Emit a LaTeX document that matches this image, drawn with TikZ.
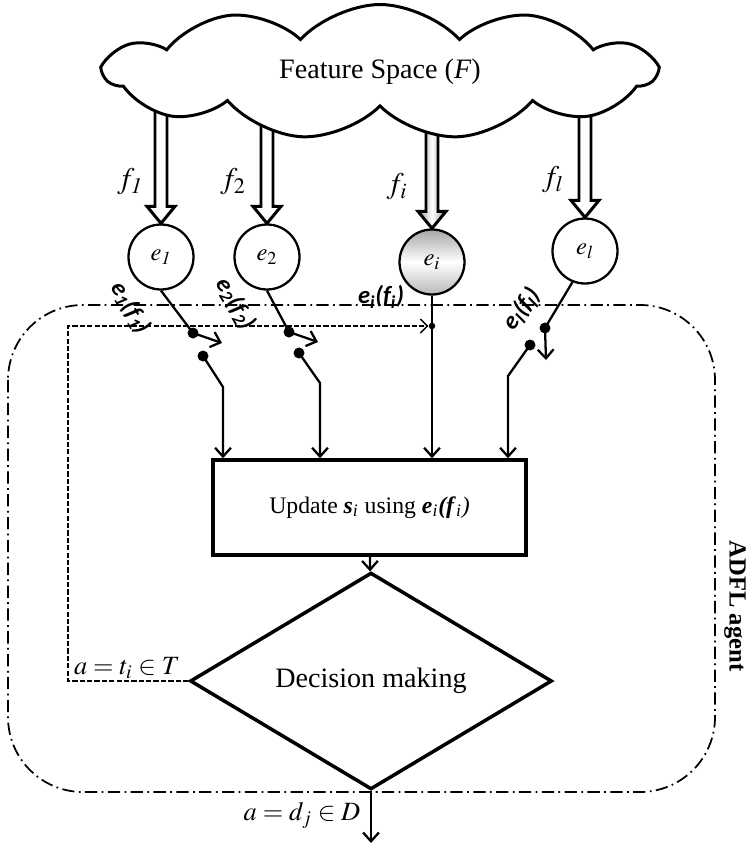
\documentclass[tikz,border=0pt]{standalone}
\usepackage{mathptmx}
\usepackage[no-math]{fontspec}
\setmainfont{Liberation Serif}
\newfontfamily\lblfont{Carlito}
\usetikzlibrary{positioning,calc,shapes.geometric,shapes.symbols,arrows.meta,backgrounds}

\newcommand\featarrow[2]{%
  \draw[line width=1.7pt,line join=miter,#2] ($(#1)+(-6,-150)$) -- ($(#1)+(-6,-17)$)
    -- ($(#1)+(-14,-17)$) -- (#1) -- ($(#1)+(14,-17)$) -- ($(#1)+(6,-17)$) -- ($(#1)+(6,-150)$);}

\begin{document}
\begin{tikzpicture}[x=0.02cm,y=-0.02cm,
  ent/.style={circle,draw,line width=1.3pt,minimum size=1.3cm,inner sep=0pt,font=\fontsize{14}{16}\selectfont},
  sw/.style={line width=1.3pt},
  tip/.style={-{Straight Barb[length=5pt,width=9pt,line width=1.3pt]}},
  pin/.style={circle,fill,inner sep=0pt,minimum size=0.22cm},
  fb/.style={line width=0.8pt,dash pattern=on 3pt off 1.2pt},
  agent/.style={line width=1pt,dash pattern=on 7pt off 2.5pt on 1pt off 2.5pt,rounded corners=1.5cm},
  flab/.style={font=\fontsize{17}{19}\selectfont},
  elab/.style={font=\lblfont\bfseries\itshape\fontsize{14}{16}\selectfont,inner sep=0pt},
  bold/.style={draw,line width=2pt}]
\useasboundingbox (0,0) rectangle (750,846);

% agent boundary
\draw[agent] (8,305) rectangle (715,792);
\node[rotate=-90,font=\bfseries\fontsize{14}{16}\selectfont] (agt) at (735,606) {ADFL agent};

% feature space
\node[cloud,draw,fill=white,line width=1.7pt,cloud puffs=11,cloud puff arc=95,cloud ignores aspect,
  minimum width=11cm,minimum height=2.7cm,font=\fontsize{16}{18}\selectfont] (fs) at (380,72) {Feature Space (\textit{F})};

% evaluators
\node[ent] (e1) at (161,257) {$e_{\mathit{1}}$};
\node[ent] (e2) at (267,257) {$e_2$};
\node[ent,top color=gray!70,bottom color=gray!55,middle color=white] (ei) at (432,262) {$e_i$};
\node[ent] (el) at (585,251) {$e_l$};

\node[flab] (l1) at (130,182) {$f_{\mathit{1}}$};
\node[flab] (l2) at (233,182) {$f_2$};
\node[flab] (li) at (397,187) {$f_i$};
\node[flab] (ll) at (553,180) {$f_l$};

\begin{scope}[on background layer]
\featarrow{e1.north}{fill=white}
\featarrow{e2.north}{fill=white}
\featarrow{ei.north}{left color=gray!80,right color=gray!80,middle color=white}
\featarrow{el.north}{fill=white}
\end{scope}

\node[elab,rotate=-60] (o1) at (131,308) {e\textsubscript{1}(f\textsubscript{1})};
\node[elab,rotate=-60] (o2) at (236,304) {e\textsubscript{2}(f\textsubscript{2})};
\node[elab] (oi) at (381,297) {e\textsubscript{i}(f\textsubscript{i})};
\node[elab,rotate=52] (ol) at (522,309) {e\textsubscript{l}(f\textsubscript{l})};

% update and decision
\node[bold,minimum width=6.26cm,minimum height=1.9cm,font=\fontsize{13.5}{15}\selectfont] (upd) at (369.5,507.5)
  {Update \textbf{\textit{s}}\textsubscript{\textit{i}} using \textbf{\textit{e}}\textsubscript{\textit{i}}\textbf{\textit{(f}}\textsubscript{\textit{i}}\textit{)}};
\node[bold,diamond,minimum width=7.24cm,minimum height=2.88cm,inner sep=0pt,font=\fontsize{16}{18}\selectfont] (dec) at (371,681) {Decision making};

% switches
\coordinate (a1) at (193,333); \coordinate (r1) at (222,343);
\coordinate (b1) at (203,356); \coordinate (k1) at (223,387);
\coordinate (a2) at (289,332); \coordinate (r2) at (318,342);
\coordinate (b2) at (299,353); \coordinate (k2) at (320,383);
\coordinate (a4) at (545,328); \coordinate (r4) at (546,360);
\coordinate (b4) at (530,345); \coordinate (k4) at (508,376);

\draw[sw] (e1.south) -- (a1);
\draw[sw,tip] (a1) -- (r1);
\draw[sw,tip] (b1) -- (k1) -- (k1 |- upd.north);
\draw[sw] (e2.south) -- (a2);
\draw[sw,tip] (a2) -- (r2);
\draw[sw,tip] (b2) -- (k2) -- (k2 |- upd.north);
\draw[sw] (el.-112) -- (a4);
\draw[sw,tip] (a4) -- (r4);
\draw[sw,tip] (b4) -- (k4) -- (k4 |- upd.north);
\draw[sw,tip] (ei) -- (ei |- upd.north);
\foreach \p in {a1,b1,a2,b2,a4,b4} \node[pin] (p\p) at (\p) {};
\node[pin,minimum size=0.13cm] (ji) at (432,326) {};

% feedback
\coordinate (fbc) at (68,326);
\draw[fb,-{Straight Barb[length=4pt,width=8pt]}] (dec.west) -| (fbc) -- (ji);
\node[font=\fontsize{15}{17}\selectfont] (tl) at (127,668) {$a = t_i \in T$};

% output
\coordinate (out) at (371,843);
\draw[sw,tip] (upd) -- (dec);
\draw[sw,tip] (dec) -- (out);
\node[font=\fontsize{15}{17}\selectfont] (dl) at (302,815) {$a = d_j \in D$};
\end{tikzpicture}
\end{document}
